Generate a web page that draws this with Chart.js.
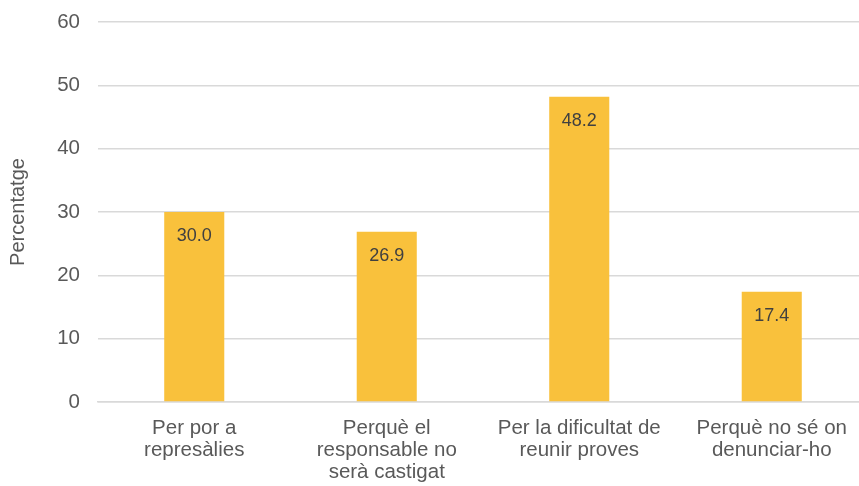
<!DOCTYPE html>
<html>
<head>
<meta charset="utf-8">
<title>Percentatge</title>
<script src="https://cdn.jsdelivr.net/npm/chart.js@4.4.1/dist/chart.umd.min.js"></script>
<style>
  html, body { margin: 0; padding: 0; background: #ffffff; overflow: hidden; }
  #wrap { width: 868px; height: 486px; }
</style>
</head>
<body>
<div id="wrap"><canvas id="chart" width="868" height="486"></canvas></div>
<script>
const categories = [
  ["Per por a", "represàlies"],
  ["Perquè el", "responsable no", "serà castigat"],
  ["Per la dificultat de", "reunir proves"],
  ["Perquè no sé on", "denunciar-ho"]
];
const percentages = [30.0, 26.9, 48.2, 17.4];
const yTicks = [0, 10, 20, 30, 40, 50, 60];
const axisTitle = "Percentatge";

const FONT = "'Liberation Sans', Arial, sans-serif";

// Writes each bar's value just inside the top of the bar
const valueLabels = {
  id: 'valueLabels',
  afterDatasetsDraw(chart) {
    const ctx = chart.ctx;
    const meta = chart.getDatasetMeta(0);
    ctx.save();
    ctx.font = "18px " + FONT;
    ctx.fillStyle = "#404040";
    ctx.textAlign = "center";
    ctx.textBaseline = "middle";
    meta.data.forEach((bar, i) => {
      ctx.fillText(percentages[i].toFixed(1), bar.x, bar.y + 24);
    });
    ctx.restore();
  }
};

new Chart(document.getElementById('chart'), {
  type: 'bar',
  data: {
    labels: categories,
    datasets: [{
      data: percentages,
      backgroundColor: '#F9C13C',
      borderWidth: 0,
      barPercentage: 0.312,
      categoryPercentage: 1.0
    }]
  },
  options: {
    responsive: false,
    animation: false,
    devicePixelRatio: 1,
    layout: { padding: { top: 22, right: 0, bottom: 0, left: 0 } },
    plugins: {
      legend: { display: false },
      tooltip: { enabled: false }
    },
    scales: {
      x: {
        grid: { display: false, drawTicks: false },
        border: { display: true, color: '#d9d9d9', width: 1.5 },
        ticks: {
          color: '#595959',
          font: { family: FONT, size: 20.5, lineHeight: '22px' },
          padding: 15,
          maxRotation: 0,
          autoSkip: false
        },
        afterFit(scale) { scale.height = 84; }
      },
      y: {
        min: 0,
        max: 60,
        afterBuildTicks(scale) { scale.ticks = yTicks.map(v => ({ value: v })); },
        grid: { color: '#d9d9d9', lineWidth: 1.5, drawTicks: false },
        border: { display: false },
        ticks: {
          color: '#595959',
          font: { family: FONT, size: 20.5 },
          padding: 18
        },
        title: {
          display: true,
          text: axisTitle,
          color: '#595959',
          font: { family: FONT, size: 20 },
          padding: { top: 6, bottom: 0 }
        },
        afterFit(scale) {
          scale.width = 98;
          scale.paddingTop = 0;
          scale.paddingBottom = 0;
        }
      }
    }
  },
  plugins: [valueLabels]
});
</script>
</body>
</html>
